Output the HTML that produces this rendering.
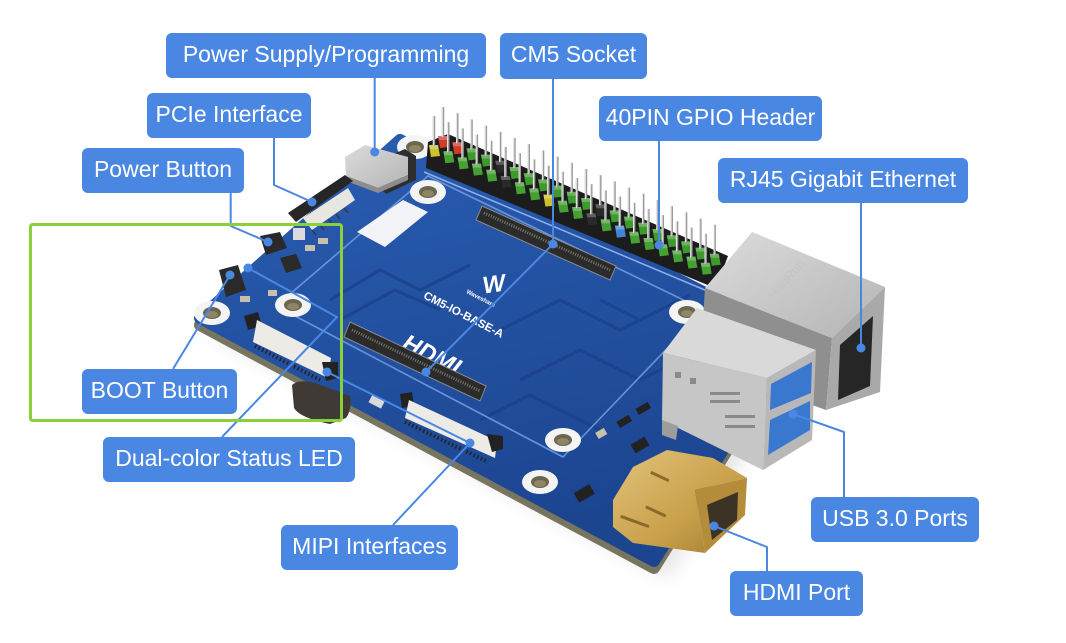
<!DOCTYPE html>
<html><head><meta charset="utf-8"><style>
html,body{margin:0;padding:0;background:#fff;}
svg{display:block;}
.lb{fill:#4a87e3;}
.lt{font-family:"Liberation Sans",sans-serif;font-size:23px;fill:#fff;text-anchor:middle;}
.ln{stroke:#4a87e3;stroke-width:2;fill:none;stroke-linejoin:round;}
.dt{fill:#4a87e3;}
</style></head><body>
<svg width="1066" height="643" viewBox="0 0 1066 643" xmlns="http://www.w3.org/2000/svg">
<defs>
 <linearGradient id="bgr" x1="0" y1="0" x2="0.3" y2="1">
  <stop offset="0" stop-color="#2a5db2"/><stop offset="1" stop-color="#1c4590"/>
 </linearGradient>
 <linearGradient id="silv" x1="0" y1="0" x2="1" y2="1">
  <stop offset="0" stop-color="#dcdcdc"/><stop offset="1" stop-color="#b4b4b4"/>
 </linearGradient>
 <linearGradient id="gold" x1="0" y1="0" x2="1" y2="1">
  <stop offset="0" stop-color="#e2c27a"/><stop offset="0.6" stop-color="#c9a04a"/><stop offset="1" stop-color="#9c7a30"/>
 </linearGradient>
 <filter id="blur" x="-20%" y="-20%" width="140%" height="140%"><feGaussianBlur stdDeviation="9"/></filter>
 <g id="pin">
  <path d="M-5,-9 L4,-9 L6,2 L-3,3 Z" fill="currentColor"/>
  <path d="M-5,-9 L4,-9 L5,-5 L-4,-5 Z" fill="#ffffff" opacity=".25"/>
  <rect x="-1.2" y="-38" width="2.4" height="30" fill="#9a9a9a"/>
  <rect x="-1.2" y="-38" width="1" height="30" fill="#ececec"/>
 </g>
 <g id="hole">
  <ellipse cx="0" cy="0" rx="18" ry="12" fill="#f4f4f4"/>
  <ellipse cx="0" cy="0" rx="9" ry="6" fill="#6b6650"/>
  <ellipse cx="0" cy="1.5" rx="6" ry="3.5" fill="#8f8565"/>
 </g>
</defs>

<rect width="1066" height="643" fill="#ffffff"/>

<!-- shadow -->
<polygon points="414,152 812,350 668,578 210,334" fill="#c9c9c9" opacity=".45" filter="url(#blur)"/>

<!-- board thickness -->
<polygon points="400,147 793,344 654,568 200,325" fill="#77745f" stroke="#77745f" stroke-width="12" stroke-linejoin="round"/>
<!-- board -->
<polygon points="400,140 793,337 654,561 200,318" fill="url(#bgr)" stroke="url(#bgr)" stroke-width="12" stroke-linejoin="round"/>

<!-- traces -->
<g stroke="#1a3f86" stroke-width="3" fill="none" opacity=".7">
 <path d="M330,300 L380,270 L420,290 L470,265"/>
 <path d="M340,320 L395,290 L440,310"/>
 <path d="M500,330 L560,300 L620,330 L660,310"/>
 <path d="M480,420 L530,395 L600,430"/>
 <path d="M520,380 L580,350 L640,380 L690,355"/>
 <path d="M600,300 L640,320 L690,295"/>
</g>
<!-- inner silkscreen outline -->
<polygon points="428,176 704,310 563,457 276,306" fill="none" stroke="#6b93d8" stroke-width="1.6" stroke-linejoin="round"/>

<!-- sticker -->
<polygon points="357,232 403,200 428,212 385,247" fill="#f2f3f6"/>

<!-- holes -->
<use href="#hole" x="415" y="147"/>
<use href="#hole" x="428" y="192"/>
<use href="#hole" x="212" y="313"/>
<use href="#hole" x="293" y="305"/>
<use href="#hole" x="563" y="440"/>
<use href="#hole" x="540" y="482"/>
<use href="#hole" x="687" y="312"/>

<!-- silkscreen texts -->
<text transform="translate(428,362) rotate(27)" font-family="Liberation Sans,sans-serif" font-size="24" font-weight="bold" font-style="italic" fill="#ffffff" text-anchor="middle">HDMI</text>
<text transform="translate(462,318) rotate(27)" font-family="Liberation Sans,sans-serif" font-size="11.5" font-weight="bold" fill="#ffffff" text-anchor="middle">CM5-IO-BASE-A</text>
<text transform="translate(495,292) rotate(-8)" font-family="Liberation Sans,sans-serif" font-size="24" font-weight="bold" font-style="italic" fill="#ffffff" text-anchor="middle">W</text>
<text transform="translate(480,300) rotate(27)" font-family="Liberation Sans,sans-serif" font-size="6" font-weight="bold" fill="#ffffff" text-anchor="middle">Waveshare</text>

<!-- CM5 socket 1 -->
<polygon points="482,206 616,266 610,280 476,220" fill="#2b2b2b" stroke="#8a8a8a" stroke-width="1"/>
<line x1="484" y1="213" x2="610" y2="270" stroke="#7a7a6a" stroke-width="3" stroke-dasharray="1 1.5"/>
<!-- CM5 socket 2 -->
<polygon points="350,322 486,386 480,401 344,337" fill="#2b2b2b" stroke="#8a8a8a" stroke-width="1"/>
<line x1="352" y1="330" x2="480" y2="391" stroke="#7a7a6a" stroke-width="3" stroke-dasharray="1 1.5"/>

<!-- GPIO header base -->
<polygon points="428,142 448,134 728,256 722,272 710,286 426,168" fill="#1c1c1c"/>
<line x1="424" y1="172" x2="712" y2="293" stroke="#8fb0e8" stroke-width="1.5"/>
<!-- back row -->
<g color="#3d9a2c">
<use href="#pin" x="443" y="145" color="#d23a2a"/>
<use href="#pin" x="457.3" y="151.2" color="#d23a2a"/>
<use href="#pin" x="471.6" y="157.4"/>
<use href="#pin" x="485.9" y="163.6"/>
<use href="#pin" x="500.2" y="169.8" color="#2a2a2a"/>
<use href="#pin" x="514.5" y="176"/>
<use href="#pin" x="528.8" y="182.2"/>
<use href="#pin" x="543.1" y="188.4"/>
<use href="#pin" x="557.4" y="194.6"/>
<use href="#pin" x="571.7" y="200.8"/>
<use href="#pin" x="586" y="207"/>
<use href="#pin" x="600.3" y="213.2" color="#2a2a2a"/>
<use href="#pin" x="614.6" y="219.4"/>
<use href="#pin" x="628.9" y="225.6"/>
<use href="#pin" x="643.2" y="231.8"/>
<use href="#pin" x="657.5" y="238"/>
<use href="#pin" x="671.8" y="244.2"/>
<use href="#pin" x="686.1" y="250.4"/>
<use href="#pin" x="700.4" y="256.6"/>
<use href="#pin" x="714.7" y="262.8"/>
</g>
<!-- front row -->
<g color="#45a232">
<use href="#pin" x="434" y="154" color="#c9c22c"/>
<use href="#pin" x="448.3" y="160.2"/>
<use href="#pin" x="462.6" y="166.4"/>
<use href="#pin" x="476.9" y="172.6"/>
<use href="#pin" x="491.2" y="178.8"/>
<use href="#pin" x="505.5" y="185" color="#2a2a2a"/>
<use href="#pin" x="519.8" y="191.2"/>
<use href="#pin" x="534.1" y="197.4"/>
<use href="#pin" x="548.4" y="203.6" color="#c9c22c"/>
<use href="#pin" x="562.7" y="209.8"/>
<use href="#pin" x="577" y="216"/>
<use href="#pin" x="591.3" y="222.2" color="#2a2a2a"/>
<use href="#pin" x="605.6" y="228.4"/>
<use href="#pin" x="619.9" y="234.6" color="#3f86d6"/>
<use href="#pin" x="634.2" y="240.8"/>
<use href="#pin" x="648.5" y="247"/>
<use href="#pin" x="662.8" y="253.2"/>
<use href="#pin" x="677.1" y="259.4"/>
<use href="#pin" x="691.4" y="265.6"/>
<use href="#pin" x="705.7" y="271.8"/>
</g>

<!-- USB-C + FPC near top -->
<polygon points="380,160 405,149 416,156 416,180 386,194 378,186" fill="#2e2e2e"/>
<polygon points="345,157 365,145 408,157 408,175 378,188 346,176" fill="url(#silv)"/>
<polygon points="346,176 378,188 408,175 408,180 378,193 346,181" fill="#8d8d8d"/>
<!-- PCIe FPC -->
<polygon points="288,213 345,175 353,181 296,222" fill="#262626"/>
<polygon points="303,218 348,188 355,200 312,230" fill="#e8e6e0"/>
<g stroke="#333" stroke-width="1.2">
 <line x1="312" y1="230" x2="316" y2="235"/><line x1="320" y1="225" x2="324" y2="230"/><line x1="328" y1="219" x2="332" y2="224"/><line x1="336" y1="214" x2="340" y2="219"/><line x1="344" y1="208" x2="348" y2="213"/>
</g>

<!-- left small parts -->
<polygon points="260,236 280,232 287,248 266,255" fill="#2a2a2a"/>
<polygon points="280,258 296,254 302,268 286,273" fill="#2a2a2a"/>
<polygon points="219,270 238,265 246,290 226,297" fill="#2a2a2a"/>
<rect x="293" y="228" width="12" height="12" fill="#dcdcdc"/>
<rect x="305" y="245" width="10" height="6" fill="#c8c0a8"/>
<rect x="318" y="238" width="10" height="6" fill="#c8c0a8"/>
<rect x="240" y="296" width="10" height="6" fill="#c8c0a8"/>
<rect x="268" y="290" width="9" height="6" fill="#c8c0a8"/>

<!-- MIPI connector 1 -->
<polygon points="244,316 258,312 262,326 248,330" fill="#222"/>
<polygon points="257,320 331,358 328,378 253,342" fill="#ecebe6"/>
<polygon points="322,362 338,362 338,378 326,381" fill="#222"/>
<line x1="255" y1="346" x2="320" y2="380" stroke="#222" stroke-width="4" stroke-dasharray="1.5 2.5"/>
<!-- MIPI connector 2 -->
<polygon points="400,394 412,392 414,406 402,408" fill="#222"/>
<polygon points="409,400 497,441 495,458 405,418" fill="#ecebe6"/>
<polygon points="487,434 503,436 503,449 492,452" fill="#222"/>
<line x1="405" y1="422" x2="488" y2="462" stroke="#222" stroke-width="4" stroke-dasharray="1.5 2.5"/>
<rect x="370" y="397" width="14" height="9" fill="#d8d8d8" transform="rotate(27 377 401)"/>

<!-- dark parts below board -->
<path d="M292,385 Q300,378 318,384 L350,396 Q352,410 346,418 L330,424 Q300,418 294,408 Z" fill="#3f3a35"/>

<!-- SMD near HDMI -->
<rect x="617" y="418" width="14" height="7" fill="#222" transform="rotate(-30 624 421)"/>
<rect x="636" y="405" width="14" height="7" fill="#222" transform="rotate(-30 643 408)"/>
<rect x="632" y="440" width="16" height="10" fill="#222" transform="rotate(-30 640 445)"/>
<rect x="575" y="488" width="18" height="11" fill="#222" transform="rotate(-30 584 493)"/>
<rect x="596" y="430" width="10" height="7" fill="#c8c0a8" transform="rotate(-30 601 433)"/>

<!-- RJ45 -->
<polygon points="705,288 832,338 826,410 700,365" fill="#8f8f8f"/>
<polygon points="705,288 752,232 885,287 832,338" fill="url(#silv)"/>
<polygon points="832,338 885,287 880,392 826,410" fill="#a9a9a9"/>
<polygon points="840,345 873,316 870,386 838,400" fill="#262626"/>
<text transform="translate(790,282) rotate(-50)" font-family="Liberation Sans,sans-serif" font-size="13" fill="#c4c4c4" text-anchor="middle">HanRun</text>

<!-- USB 3.0 stacked -->
<polygon points="663,353 697,308 816,350 767,378" fill="#d9d9d9"/>
<polygon points="663,353 767,378 763,470 662,420" fill="#c6c6c6"/>
<polygon points="767,378 816,350 812,440 763,470" fill="#b8b8b8"/>
<polygon points="771,384 812,362 811,393 770,410" fill="#3a78d0"/>
<polygon points="770,420 810,401 810,430 768,455" fill="#3a78d0"/>
<g fill="#8a8a8a">
 <rect x="675" y="372" width="6" height="6"/><rect x="690" y="378" width="6" height="6"/>
 <rect x="710" y="392" width="30" height="3"/><rect x="710" y="400" width="30" height="3"/>
 <rect x="725" y="415" width="30" height="3"/><rect x="725" y="425" width="30" height="3"/>
</g>
<polygon points="662,420 678,426 676,440 662,435" fill="#9d9d9d"/>

<!-- HDMI -->
<polygon points="613,500 633,467 667,450 713,458 747,478 695,490 705,553 633,543 613,527" fill="url(#gold)"/>
<polygon points="695,490 747,478 745,515 705,553" fill="#b48c3a"/>
<polygon points="707,505 738,492 737,520 712,540" fill="#3a3326"/>
<g fill="#8a6a2a">
 <rect x="650" y="475" width="20" height="3" transform="rotate(25 660 476)"/>
 <rect x="645" y="510" width="22" height="3" transform="rotate(25 656 511)"/>
 <rect x="620" y="520" width="30" height="3" transform="rotate(20 635 521)"/>
</g>

<!-- connector lines -->
<polyline class="ln" points="374.7,78 374.7,152"/>
<polyline class="ln" points="274,138 274,185 312,202"/>
<polyline class="ln" points="230.7,193 230.7,226 268,242"/>
<polyline class="ln" points="553,79 553,244 426,372"/>
<polyline class="ln" points="659,141 659,245"/>
<polyline class="ln" points="861,203 861,348"/>
<polyline class="ln" points="173,369 230,275"/>
<polyline class="ln" points="222,437 337,317 248,268"/>
<polyline class="ln" points="393,525 470,443 327,372"/>
<polyline class="ln" points="844,497 844,432 793,414"/>
<polyline class="ln" points="767,571 767,547 714,526"/>
<g class="dt">
 <circle cx="374.7" cy="152" r="4.5"/>
 <circle cx="312" cy="202" r="4.5"/>
 <circle cx="268" cy="242" r="4.5"/>
 <circle cx="553" cy="244" r="4.5"/>
 <circle cx="426" cy="372" r="4.5"/>
 <circle cx="659" cy="245" r="4.5"/>
 <circle cx="861" cy="348" r="4.5"/>
 <circle cx="230" cy="275" r="4.5"/>
 <circle cx="248" cy="268" r="4.5"/>
 <circle cx="470" cy="443" r="4.5"/>
 <circle cx="327" cy="372" r="4.5"/>
 <circle cx="793" cy="414" r="4.5"/>
 <circle cx="714" cy="526" r="4.5"/>
</g>

<!-- labels -->
<rect class="lb" x="166" y="33" width="320" height="45" rx="6"/>
<text class="lt" x="326" y="62">Power Supply/Programming</text>
<rect class="lb" x="500" y="33" width="147" height="46" rx="6"/>
<text class="lt" x="573.5" y="62">CM5 Socket</text>
<rect class="lb" x="147" y="93" width="164" height="45" rx="6"/>
<text class="lt" x="229" y="122">PCIe Interface</text>
<rect class="lb" x="82" y="148" width="162" height="45" rx="6"/>
<text class="lt" x="163" y="177">Power Button</text>
<rect class="lb" x="599" y="96" width="223" height="45" rx="6"/>
<text class="lt" x="710.5" y="125">40PIN GPIO Header</text>
<rect class="lb" x="718" y="158" width="250" height="45" rx="6"/>
<text class="lt" x="843" y="187">RJ45 Gigabit Ethernet</text>
<rect class="lb" x="82" y="369" width="155" height="45" rx="6"/>
<text class="lt" x="159.5" y="398">BOOT Button</text>
<rect class="lb" x="103" y="437" width="252" height="45" rx="6"/>
<text class="lt" x="229" y="466">Dual-color Status LED</text>
<rect class="lb" x="281" y="525" width="177" height="45" rx="6"/>
<text class="lt" x="369.5" y="554">MIPI Interfaces</text>
<rect class="lb" x="811" y="497" width="168" height="45" rx="6"/>
<text class="lt" x="895" y="526">USB 3.0 Ports</text>
<rect class="lb" x="730" y="571" width="133" height="45" rx="6"/>
<text class="lt" x="796.5" y="600">HDMI Port</text>

<!-- green highlight box -->
<rect x="30.5" y="224.5" width="311" height="196" rx="2" fill="none" stroke="#8bcf3a" stroke-width="3"/>
</svg>
</body></html>
